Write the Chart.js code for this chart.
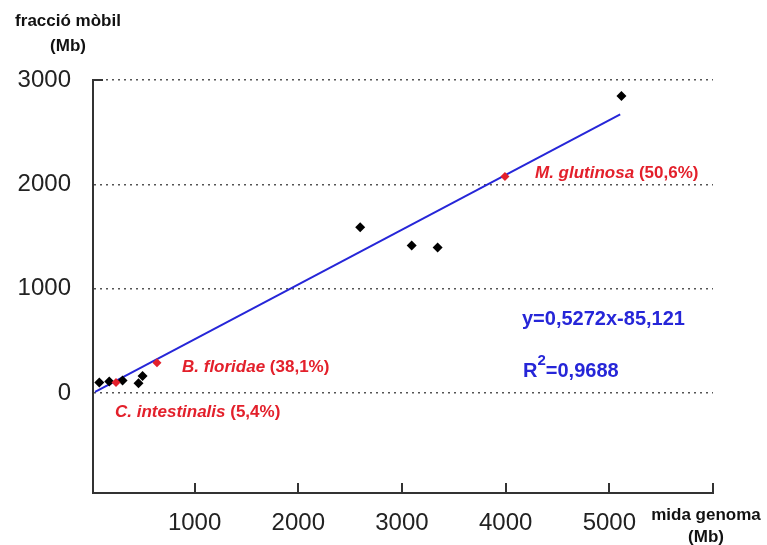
<!DOCTYPE html>
<html>
<head>
<meta charset="utf-8">
<script src="https://cdn.jsdelivr.net/npm/chart.js@4"></script>
<style>
  html, body { margin: 0; padding: 0; background: #fff; }
  #wrap { width: 767px; height: 545px; }
</style>
</head>
<body>
<div id="wrap"><canvas id="chart" width="767" height="545"></canvas></div>
<script>
// --- data (Mb) ---
const genomeSize = [81, 177, 305, 459, 498, 2597, 3094, 3344, 5117];
const mobileFraction = [99, 108, 118, 93, 163, 1589, 1412, 1393, 2847];

// labelled species (red)
const speciesNames = ["C. intestinalis", "B. floridae", "M. glutinosa"];
const speciesPct = ["(5,4%)", "(38,1%)", "(50,6%)"];
const speciesSize = [242, 637, 3993];
const speciesFraction = [99, 290, 2074];

// regression line end points
const fitX = [40, 5105];
const fitY = [10, 2670];

const xTickLabels = [1000, 2000, 3000, 4000, 5000];
const xTickMarks = [1000, 2000, 3000, 4000, 5000, 6000];
const yTickLabels = [0, 1000, 2000, 3000];

const RED = "#e3202b";
const BLUE = "#2626d8";
const AXIS = "#333";
const FONT = "'Liberation Sans', Arial, sans-serif";

// --- text, inward ticks and the little corner at the top ---
const decorations = {
  id: "decorations",
  afterDraw(chart) {
    const { ctx, scales: { x, y } } = chart;
    ctx.save();

    // tick marks pointing up from the x axis
    ctx.strokeStyle = AXIS;
    ctx.lineWidth = 2;
    xTickMarks.forEach(v => {
      const px = Math.round(x.getPixelForValue(v));
      ctx.beginPath();
      ctx.moveTo(px, y.bottom);
      ctx.lineTo(px, y.bottom - 10);
      ctx.stroke();
    });
    const topY = y.getPixelForValue(3000);
    ctx.beginPath();
    ctx.moveTo(x.left, topY);
    ctx.lineTo(x.left + 10, topY);
    ctx.stroke();

    // axis titles
    ctx.fillStyle = "#111";
    ctx.font = `bold 17px ${FONT}`;
    ctx.textAlign = "center";
    ctx.textBaseline = "middle";
    ctx.fillText("fracció mòbil", 68, 21);
    ctx.fillText("(Mb)", 68, 46);
    ctx.fillText("mida genoma", 706, 515);
    ctx.fillText("(Mb)", 706, 537);

    // species labels
    ctx.textAlign = "left";
    const labelPos = [[115, 412], [182, 367], [535, 173]];
    speciesNames.forEach((name, i) => {
      const [lx, ly] = labelPos[i];
      ctx.fillStyle = RED;
      ctx.font = `italic bold 17px ${FONT}`;
      ctx.fillText(name, lx, ly);
      const w = ctx.measureText(name + " ").width;
      ctx.font = `bold 17px ${FONT}`;
      ctx.fillText(speciesPct[i], lx + w, ly);
    });

    // regression text
    ctx.fillStyle = BLUE;
    ctx.font = `bold 20px ${FONT}`;
    ctx.fillText("y=0,5272x-85,121", 522, 319);
    ctx.fillText("R", 523, 371);
    let rx = 523 + ctx.measureText("R").width;
    ctx.font = `bold 15px ${FONT}`;
    ctx.fillText("2", rx, 361);
    rx += ctx.measureText("2").width;
    ctx.font = `bold 20px ${FONT}`;
    ctx.fillText("=0,9688", rx, 371);

    ctx.restore();
  }
};

new Chart(document.getElementById("chart"), {
  type: "scatter",
  data: {
    datasets: [
      {
        label: "espècies",
        data: speciesSize.map((v, i) => ({ x: v, y: speciesFraction[i] })),
        pointStyle: "rectRot",
        pointRadius: 4.5,
        backgroundColor: RED,
        borderColor: RED,
        borderWidth: 0,
      },
      {
        label: "genomes",
        data: genomeSize.map((v, i) => ({ x: v, y: mobileFraction[i] })),
        pointStyle: "rectRot",
        pointRadius: 5,
        backgroundColor: "#000",
        borderColor: "#000",
        borderWidth: 0,
      },
      {
        label: "ajust",
        type: "line",
        data: fitX.map((v, i) => ({ x: v, y: fitY[i] })),
        showLine: true,
        pointRadius: 0,
        borderColor: BLUE,
        borderWidth: 2,
        fill: false,
      },
    ],
  },
  options: {
    responsive: false,
    animation: false,
    layout: { padding: { left: 0, top: 80, right: 54, bottom: 0 } },
    plugins: {
      legend: { display: false },
      tooltip: { enabled: false },
    },
    scales: {
      x: {
        type: "linear",
        min: 20,
        max: 6000,
        afterBuildTicks: s => { s.ticks = xTickLabels.map(v => ({ value: v })); },
        afterFit: s => { s.height = 52; },
        grid: { display: false, drawTicks: false },
        border: { display: true, color: AXIS, width: 2 },
        ticks: {
          color: "#222",
          padding: 16,
          maxRotation: 0,
          callback: v => String(v),
          font: { family: FONT, size: 24 },
        },
      },
      y: {
        type: "linear",
        min: -960,
        max: 3000,
        afterBuildTicks: s => { s.ticks = yTickLabels.map(v => ({ value: v })); },
        afterFit: s => { s.width = 93; },
        grid: { color: "#555", lineWidth: 1.5, drawTicks: false },
        border: { display: true, color: AXIS, width: 2, dash: [2, 4] },
        ticks: {
          color: "#222",
          padding: 22,
          callback: v => String(v),
          font: { family: FONT, size: 24 },
        },
      },
    },
  },
  plugins: [decorations],
});
</script>
</body>
</html>
